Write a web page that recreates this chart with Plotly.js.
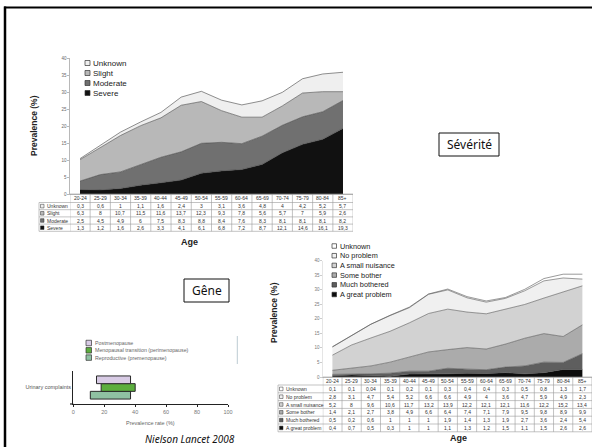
<!DOCTYPE html>
<html><head><meta charset="utf-8">
<script src="https://cdn.plot.ly/plotly-3.0.1.min.js"></script>
<style>html,body{margin:0;padding:0;background:#fff;overflow:hidden}#chart{width:592px;height:447px}</style>
</head><body><div id="chart"></div>
<script>
// ---------- DATA ----------
const ages = ['20-24','25-29','30-34','35-39','40-44','45-49','50-54','55-59','60-64','65-69','70-74','75-79','80-84','85+'];

// Sévérité chart (top to bottom of legend/table)
const sevNames = ['Unknown','Slight','Moderate','Severe'];
const sevUnknown  = [0.3,0.6,1,1.1,1.6,2.4,3,3.1,3.6,4.8,4,4.2,5.2,5.7];
const sevSlight   = [6.3,8,10.7,11.5,11.6,13.7,12.3,9.3,7.8,5.6,5.7,7,5.9,2.6];
const sevModerate = [2.5,4.5,4.9,6,7.5,8.3,8.8,8.4,7.6,8.3,8.1,8.1,8.1,8.2];
const sevSevere   = [1.3,1.2,1.6,2.6,3.3,4.1,6.1,6.8,7.2,8.7,12.1,14.6,16.1,19.3];

// Gêne chart
const geneNames = ['Unknown','No problem','A small nuisance','Some bother','Much bothered','A great problem'];
const geneUnknown  = [0.1,0.1,0.04,0.1,0.2,0.1,0.3,0.4,0.4,0.3,0.5,0.8,1.3,1.7];
const geneNoProb   = [2.8,3.1,4.7,5.4,5.2,6.6,6.6,4.9,4,3.6,4.7,5.9,4.9,2.3];
const geneSmall    = [5.2,8,9.6,10.6,11.7,13.2,13.9,12.2,12.1,12.1,11.6,12.2,15.2,13.4];
const geneSome     = [1.4,2.1,2.7,3.8,4.9,6.6,6.4,7.4,7.1,7.9,9.5,9.8,8.9,9.9];
const geneMuch     = [0.5,0.2,0.6,1,1,1,1.9,1.4,1.3,1.9,2.7,3.6,2.4,5.4];
const geneGreat    = [0.4,0.7,0.5,0.3,1,1,1.1,1.3,1.2,1.5,1.1,1.5,2.6,2.6];

// Nielson Lancet 2008 bar chart
const barCategory = ['Urinary complaints'];
const barNames = ['Postmenopause','Menopausal transition (perimenopause)','Reproductive (premenopause)'];
const barStart = [15,18,11];
const barEnd   = [37,40,37];
const barTicks = [0,20,40,60,80,100];

// ---------- HELPERS ----------
const W=592,H=447;
const px=x=>x/W, py=y=>1-y/H;
const FONT='Liberation Sans, Arial, sans-serif';
const fmt=v=>String(v).replace('.',',');

const traces=[];
const shapes=[];
const annotations=[];
function note(x,y,text,font,extra){
  annotations.push(Object.assign({xref:'paper',yref:'paper',x:px(x),y:py(y),text:text,showarrow:false,
    xanchor:'center',yanchor:'middle',font:font},extra||{}));
}

// ---------- CHART 1 : Sévérité ----------
const sevVals=[sevUnknown,sevSlight,sevModerate,sevSevere];
const sevColors=['#efefef','#b8b8b8','#707070','#111111'];
for(let k=3;k>=0;k--){
  traces.push({type:'scatter',mode:'lines',x:ages,y:sevVals[k],name:sevNames[k],stackgroup:'sev',
    fillcolor:sevColors[k],line:{color:'#444',width:0.6},xaxis:'x',yaxis:'y',showlegend:false,hoverinfo:'skip'});
}
// ---------- CHART 2 : Gêne ----------
const geneVals=[geneUnknown,geneNoProb,geneSmall,geneSome,geneMuch,geneGreat];
const geneColors=['#ffffff','#f0f0f0','#d2d2d2','#ababab','#5e5e5e','#0d0d0d'];
for(let k=5;k>=0;k--){
  traces.push({type:'scatter',mode:'lines',x:ages,y:geneVals[k],name:geneNames[k],stackgroup:'gene',
    fillcolor:geneColors[k],line:{color:'#555',width:0.6},xaxis:'x2',yaxis:'y2',showlegend:false,hoverinfo:'skip'});
}
// ---------- CHART 3 : bars ----------
const barColors=['#d8cbe5','#5cae3e','#8fc1a2'];
for(let k=2;k>=0;k--){
  traces.push({type:'bar',orientation:'h',y:barCategory,x:[barEnd[k]-barStart[k]],base:[barStart[k]],name:barNames[k],
    marker:{color:barColors[k],line:{color:'#2a2a2a',width:1}},xaxis:'x3',yaxis:'y3',showlegend:false,hoverinfo:'skip'});
}

// ---------- TABLE builder ----------
function table(o){
  const top=o.top, hh=o.headerH, rh=o.rowH, n=o.rows.length;
  const bottom=top+hh+rh*n;
  const lc='#9a9a9a';
  for(let i=0;i<=ages.length;i++){
    shapes.push({type:'line',xref:o.xref,yref:'paper',x0:i-0.5,x1:i-0.5,y0:py(top),y1:py(bottom),line:{color:lc,width:0.6}});
  }
  shapes.push({type:'line',xref:'paper',yref:'paper',x0:px(o.labelLeft),x1:px(o.labelLeft),y0:py(top+hh),y1:py(bottom),line:{color:lc,width:0.6}});
  shapes.push({type:'line',xref:o.xref,yref:'paper',x0:-0.5,x1:ages.length-0.5,y0:py(top),y1:py(top),line:{color:lc,width:0.6}});
  for(let r=0;r<=n;r++){
    const y=top+hh+rh*r;
    shapes.push({type:'line',xref:'paper',yref:'paper',x0:px(o.labelLeft),x1:px(o.right),y0:py(y),y1:py(y),line:{color:lc,width:0.6}});
  }
  ages.forEach((a,i)=>annotations.push({xref:o.xref,yref:'paper',x:i,y:py(top+hh/2),text:a,showarrow:false,
    font:{family:FONT,size:o.fs,color:'#333'},xanchor:'center',yanchor:'middle'}));
  o.rows.forEach((row,r)=>{
    const yc=top+hh+rh*(r+0.5);
    shapes.push({type:'rect',xref:'paper',yref:'paper',x0:px(o.labelLeft+1.5),x1:px(o.labelLeft+5),y0:py(yc-1.8),y1:py(yc+1.8),
      fillcolor:row.color,line:{color:'#333',width:0.5}});
    annotations.push({xref:'paper',yref:'paper',x:px(o.labelLeft+5.5),y:py(yc),text:row.label,showarrow:false,
      font:{family:FONT,size:o.fs,color:'#333'},xanchor:'left',yanchor:'middle'});
    row.values.forEach((v,i)=>annotations.push({xref:o.xref,yref:'paper',x:i,y:py(yc),text:fmt(v),showarrow:false,
      font:{family:FONT,size:o.fs,color:'#333'},xanchor:'center',yanchor:'middle'}));
  });
}
table({xref:'x',top:194,headerH:8.5,rowH:7.2,labelLeft:39,right:353,fs:5,
  rows:sevNames.map((nm,k)=>({label:nm,values:sevVals[k],color:sevColors[k]}))});
table({xref:'x2',top:377,headerH:8,rowH:7.8,labelLeft:278,right:592,fs:5,
  rows:geneNames.map((nm,k)=>({label:nm,values:geneVals[k],color:geneColors[k]}))});

// ---------- Legends (drawn) ----------
function legend(names,colors,x,y0,step,fs,sq,txtColor){
  names.forEach((nm,k)=>{
    const y=y0+k*step;
    shapes.push({type:'rect',xref:'paper',yref:'paper',x0:px(x),x1:px(x+sq),y0:py(y-sq/2),y1:py(y+sq/2),
      fillcolor:colors[k],line:{color:'#333',width:0.7}});
    note(x+sq+1,y,nm,{family:FONT,size:fs,color:txtColor},{xanchor:'left'});
  });
}
legend(sevNames,sevColors,85,63,10,8,5,'#222');
legend(geneNames,geneColors,332,246,9.7,7.3,4.5,'#222');
legend(barNames,barColors,86,343,7.3,5.3,5.5,'#666');

// ---------- titles / text ----------
note(34,126,'<b>Prevalence (%)</b>',{family:FONT,size:8.5,color:'#222'},{textangle:-90});
note(189,241.5,'<b>Age</b>',{family:FONT,size:9,color:'#222'});
note(274,313,'<b>Prevalence (%)</b>',{family:FONT,size:8.5,color:'#222'},{textangle:-90});
note(458,438,'<b>Age</b>',{family:FONT,size:9,color:'#222'});
note(150.5,423,'Prevalence rate (%)',{family:FONT,size:5.5,color:'#666'});
note(469,144.5,'Sévérité',{family:'Noto Sans, sans-serif',size:12,color:'#111'});
note(206.5,290.5,'Gêne',{family:'Noto Sans, sans-serif',size:12,color:'#111'});
note(190,439,'<i>Nielson Lancet 2008</i>',{family:'Noto Sans, sans-serif',size:10,color:'#111'});

// boxes, frame, decorations
shapes.push({type:'rect',xref:'paper',yref:'paper',x0:px(439),x1:px(499),y0:py(156),y1:py(133),line:{color:'#111',width:1}});
shapes.push({type:'rect',xref:'paper',yref:'paper',x0:px(184),x1:px(229),y0:py(302),y1:py(279),line:{color:'#111',width:1}});
shapes.push({type:'line',xref:'paper',yref:'paper',x0:px(4),x1:1,y0:py(7.5),y1:py(7.5),line:{color:'#000',width:2}});
shapes.push({type:'line',xref:'paper',yref:'paper',x0:px(5),x1:px(5),y0:py(6.5),y1:0,line:{color:'#000',width:2.5}});
shapes.push({type:'line',xref:'paper',yref:'paper',x0:px(237.3),x1:px(237.3),y0:py(336),y1:py(364),line:{color:'#bccbd3',width:1}});
shapes.push({type:'line',xref:'paper',yref:'paper',x0:px(70),x1:px(73.3),y0:py(404),y1:py(404),line:{color:'#222',width:1.2}});

const tick5=[0,5,10,15,20,25,30,35,40];
const layout={
  width:W,height:H,margin:{l:0,r:0,t:0,b:0},paper_bgcolor:'#fff',plot_bgcolor:'rgba(0,0,0,0)',
  showlegend:false,barmode:'group',bargap:0.3,bargroupgap:0,
  xaxis:{domain:[px(69.9),px(353.1)],anchor:'y',type:'category',range:[-0.5,13.5],showticklabels:false,ticks:'',
    showline:true,linecolor:'#888',linewidth:0.6,showgrid:false,zeroline:false},
  yaxis:{domain:[py(194),py(58)],anchor:'x',range:[0,40],tickvals:tick5,ticks:'outside',ticklen:2,tickcolor:'#888',tickwidth:0.6,
    tickfont:{family:FONT,size:4.5,color:'#666'},showline:true,linecolor:'#888',linewidth:0.6,showgrid:false,zeroline:false},
  xaxis2:{domain:[px(322.8),1],anchor:'y2',type:'category',range:[-0.5,13.5],showticklabels:false,ticks:'',
    showline:true,linecolor:'#999',linewidth:0.6,showgrid:false,zeroline:false},
  yaxis2:{domain:[py(377),py(260.5)],anchor:'x2',range:[0,40],tickvals:tick5,ticks:'outside',ticklen:2,tickcolor:'#aaa',tickwidth:0.6,
    tickfont:{family:FONT,size:4.5,color:'#777'},showline:true,linecolor:'#ccc',linewidth:0.5,showgrid:false,zeroline:false},
  xaxis3:{domain:[px(73.3),px(228)],anchor:'y3',range:[0,100],tickvals:barTicks,ticks:'outside',ticklen:2,tickcolor:'#222',
    tickfont:{family:FONT,size:5.5,color:'#777'},showline:true,linecolor:'#222',linewidth:1.2,showgrid:false,zeroline:false},
  yaxis3:{domain:[py(404),py(371)],anchor:'x3',type:'category',ticks:'',showline:true,linecolor:'#222',linewidth:1.2,
    tickfont:{family:FONT,size:5.5,color:'#555'},showgrid:false,zeroline:false},
  shapes:shapes,annotations:annotations
};
Plotly.newPlot('chart',traces,layout,{staticPlot:true,displayModeBar:false});
</script></body></html>
